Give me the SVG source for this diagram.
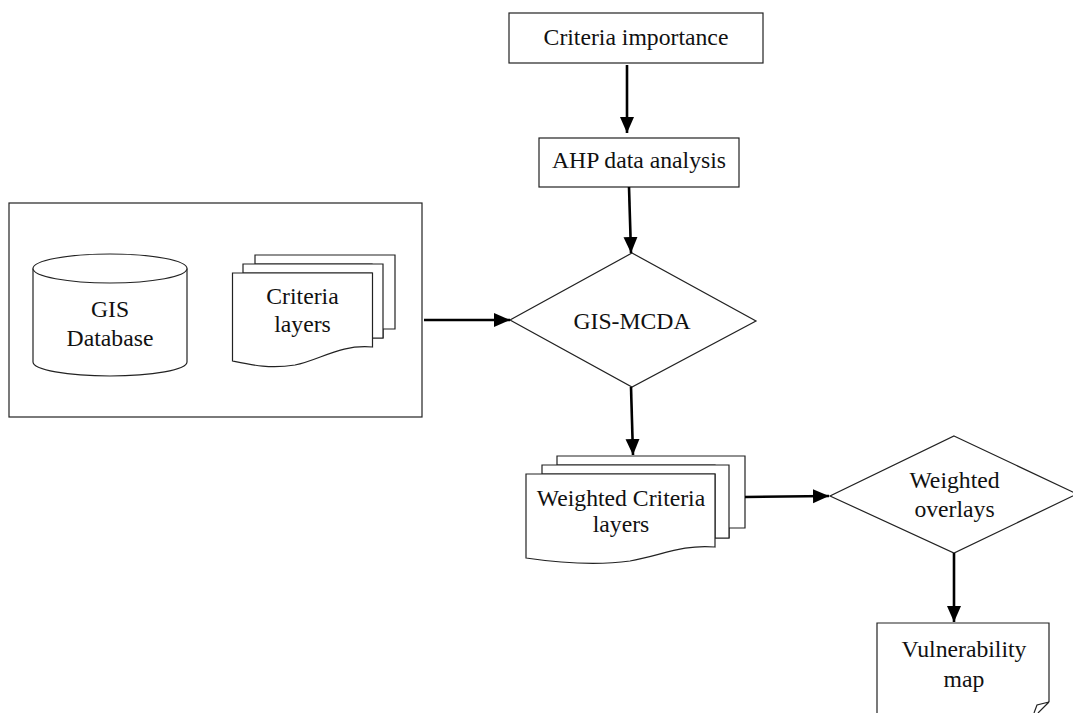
<svg xmlns="http://www.w3.org/2000/svg" width="1073" height="713" viewBox="0 0 1073 713">
<style>
.s{fill:#fff;stroke:#222;stroke-width:1.2}
.t{font-family:"Liberation Serif","Times New Roman",serif;font-size:23.7px;fill:#111;text-anchor:middle}
.c{stroke:#000;stroke-width:2.6;fill:none;marker-end:url(#ah)}
</style>
<defs>
<marker id="ah" markerUnits="userSpaceOnUse" markerWidth="17" markerHeight="15" refX="16" refY="7" orient="auto" viewBox="0 0 17 15">
<path d="M0,0 L16,7 L0,14 z" fill="#000"/>
</marker>
</defs>
<rect width="1073" height="713" fill="#fff"/>
<g id="criteria-importance">
<rect class="s" x="509" y="13" width="254" height="50"/>
<text class="t" x="636" y="45">Criteria importance</text>
</g>
<g id="ahp">
<rect class="s" x="539" y="138" width="200" height="49"/>
<text class="t" x="639" y="168">AHP data analysis</text>
</g>
<g id="input-group">
<rect class="s" x="9" y="203" width="413" height="214"/>
</g>
<g id="gis-database">
<path class="s" d="M33,268.5 V362 A77,14 0 0 0 187,362 V268.5"/>
<ellipse class="s" cx="110" cy="268.5" rx="77" ry="14.5"/>
<text class="t" x="110" y="317">GIS</text>
<text class="t" x="110" y="346">Database</text>
</g>
<g id="criteria-layers">
<path class="s" d="M255,255 H395 V329 H383 V338 H372 V264 H255 Z"/>
<path class="s" d="M243,264 H383 V338 H372 V273 H243 Z"/>
<path class="s" d="M232.5,273 H372.5 V347 C340,344 320,360 295,365 C270,369 252,365 232.5,361 Z"/>
<text class="t" x="302.5" y="304">Criteria</text>
<text class="t" x="302.5" y="332">layers</text>
</g>
<g id="gis-mcda">
<polygon class="s" points="632,253 756,321 632,387 510,320"/>
<text class="t" x="632" y="329">GIS-MCDA</text>
</g>
<g id="weighted-criteria-layers">
<path class="s" d="M557,456 H745 V528 H729 V538 H715 V465 H557 Z"/>
<path class="s" d="M542,465 H729 V538 H715 V474 H542 Z"/>
<path class="s" d="M526,474 H715 V547 C682,544 660,556 630,561 C595,566 560,563 526,558 Z"/>
<text class="t" x="621" y="506">Weighted Criteria</text>
<text class="t" x="621" y="532">layers</text>
</g>
<g id="weighted-overlays">
<polygon class="s" points="954,436 1077,494 954,553 830,496"/>
<text class="t" x="954.5" y="488">Weighted</text>
<text class="t" x="954.5" y="517">overlays</text>
</g>
<g id="vulnerability-map">
<path class="s" d="M877,713 V623 H1049 V702"/>
<path class="s" fill="none" d="M1049,702 L1037,705 L1034,713 M1049,702 L1038,713"/>
<text class="t" x="964" y="657">Vulnerability</text>
<text class="t" x="964" y="687">map</text>
</g>
<g id="connectors">
<line class="c" x1="627" y1="65" x2="627" y2="133"/>
<line class="c" x1="629" y1="187" x2="631" y2="253"/>
<line class="c" x1="424" y1="320" x2="510" y2="320"/>
<line class="c" x1="631" y1="387" x2="633" y2="455"/>
<line class="c" x1="745" y1="497" x2="829" y2="496"/>
<line class="c" x1="954" y1="553" x2="954" y2="622"/>
</g>
</svg>
